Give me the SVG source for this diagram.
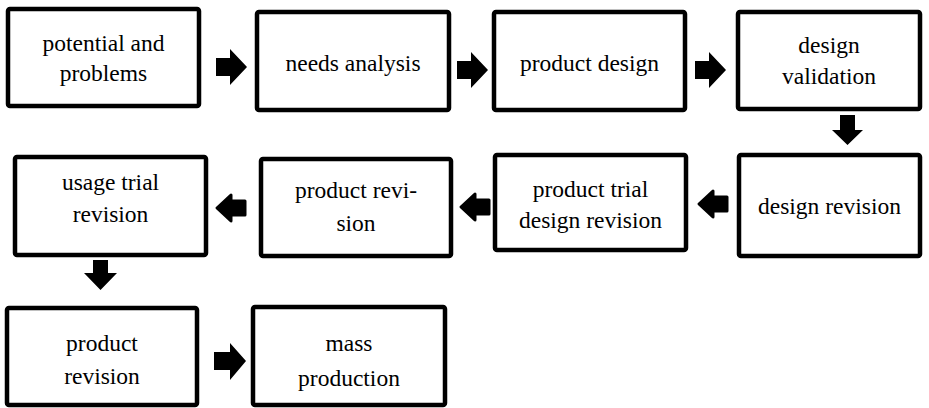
<svg xmlns="http://www.w3.org/2000/svg" width="929" height="408" viewBox="0 0 929 408">
<style>
.box{fill:#fff;stroke:#000;stroke-width:4.5;stroke-linejoin:round}
.t{font-size:23.5px;fill:#000;text-anchor:middle}
.ar{fill:#000}
.al{fill:#000;stroke:#000;stroke-width:3;stroke-linejoin:round}
</style>
<rect width="929" height="408" fill="#fff"/>
<g id="connectors">
<polygon class="ar" points="216,58 230,58 230,49 247,67 230,85 230,76 216,76"/>
<polygon class="ar" points="457,61 471,61 471,52 488,70 471,88 471,79 457,79"/>
<polygon class="ar" points="695,61 709,61 709,52 726,70 709,88 709,79 695,79"/>
<polygon class="ar" points="840,115 855,115 855,130 863,130 847.5,145 832,130 840,130"/>
<polygon class="al" points="727,197 727,211 713,211 713,217 699,204 713,191 713,197"/>
<polygon class="al" points="489,200 489,214 475,214 475,220 461,207 475,194 475,200"/>
<polygon class="al" points="245,201 245,215 231,215 231,221 217,208 231,195 231,201"/>
<polygon class="ar" points="93,260 108,260 108,273 117,273 100.5,290 84,273 93,273"/>
<polygon class="ar" points="214,352 230,352 230,343 246,361 230,380 230,370 214,370"/>
</g>
<g font-family="Liberation Serif, DejaVu Serif, serif">
<g id="n1"><rect class="box" x="8" y="9" width="191" height="97" rx="2"/><text class="t" x="103.5" y="51">potential and</text><text class="t" x="103.5" y="81">problems</text></g>
<g id="n2"><rect class="box" x="257" y="12" width="192" height="98" rx="2"/><text class="t" x="353" y="71">needs analysis</text></g>
<g id="n3"><rect class="box" x="494" y="12" width="191" height="98" rx="2"/><text class="t" x="589.5" y="71">product design</text></g>
<g id="n4"><rect class="box" x="738" y="12" width="182" height="97" rx="2"/><text class="t" x="829" y="53">design</text><text class="t" x="829" y="84">validation</text></g>
<g id="n5"><rect class="box" x="739" y="155" width="181" height="101" rx="2"/><text class="t" x="829.5" y="214">design revision</text></g>
<g id="n6"><rect class="box" x="495" y="155" width="191" height="95" rx="2"/><text class="t" x="590.5" y="197">product trial</text><text class="t" x="590.5" y="228">design revision</text></g>
<g id="n7"><rect class="box" x="261" y="159" width="190" height="97" rx="2"/><text class="t" x="356" y="198">product revi-</text><text class="t" x="356" y="231">sion</text></g>
<g id="n8"><rect class="box" x="15" y="157" width="191" height="98" rx="2"/><text class="t" x="110.5" y="190">usage trial</text><text class="t" x="110.5" y="222">revision</text></g>
<g id="n9"><rect class="box" x="7" y="308" width="190" height="97" rx="2"/><text class="t" x="102" y="351">product</text><text class="t" x="102" y="384">revision</text></g>
<g id="n10"><rect class="box" x="253" y="307" width="192" height="98" rx="2"/><text class="t" x="349" y="351">mass</text><text class="t" x="349" y="386">production</text></g>
</g>
</svg>
